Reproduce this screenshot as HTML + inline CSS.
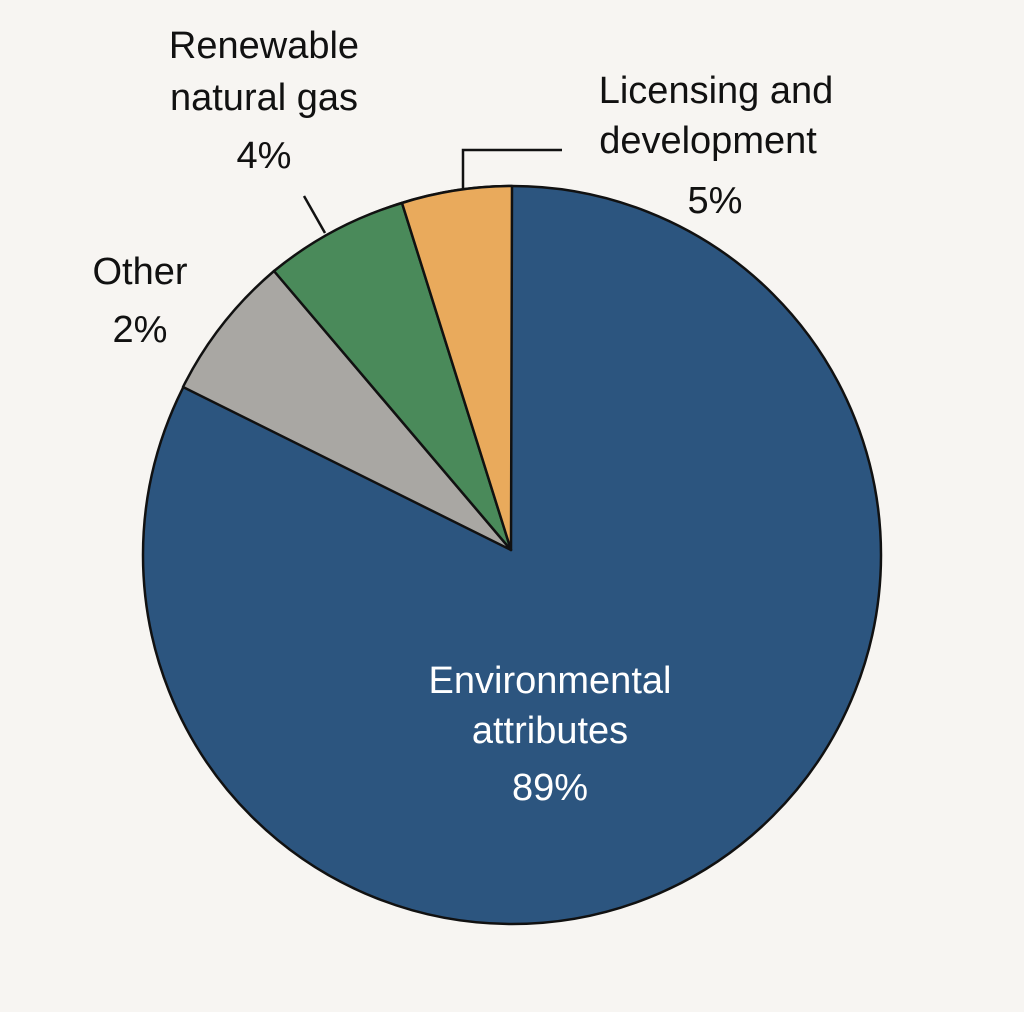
<!DOCTYPE html>
<html><head><meta charset="utf-8"><style>
html,body{margin:0;padding:0;background:#f7f5f2;}
svg{display:block;}
text{font-family:"Liberation Sans",sans-serif;font-size:38px;}
</style></head><body>
<svg width="1024" height="1012" viewBox="0 0 1024 1012">
<rect width="1024" height="1012" fill="#f7f5f2"/>
<g stroke="#111" stroke-width="2.5" stroke-linejoin="round">
<circle cx="512" cy="555" r="369" fill="#2c557f"/>
<path d="M511,550 L183,387 A369,369 0 0 1 274,271 Z" fill="#a9a7a3"/>
<path d="M511,550 L274,271 A369,369 0 0 1 402,203 Z" fill="#4a8a5a"/>
<path d="M511,550 L402,203 A369,369 0 0 1 512,186 Z" fill="#e9aa5c"/>
</g>
<g stroke="#111" stroke-width="2.5" fill="none">
<polyline points="463,188 463,150 562,150"/>
<line x1="325" y1="233" x2="304" y2="196"/>
</g>
<g fill="#111" text-anchor="middle">
<text x="264" y="58">Renewable</text>
<text x="264" y="110">natural gas</text>
<text x="264" y="168">4%</text>
<text x="716" y="103">Licensing and</text>
<text x="708" y="153">development</text>
<text x="715" y="213">5%</text>
<text x="140" y="284">Other</text>
<text x="140" y="342">2%</text>
</g>
<g fill="#fff" text-anchor="middle">
<text x="550" y="693">Environmental</text>
<text x="550" y="743">attributes</text>
<text x="550" y="800">89%</text>
</g>
</svg>
</body></html>
